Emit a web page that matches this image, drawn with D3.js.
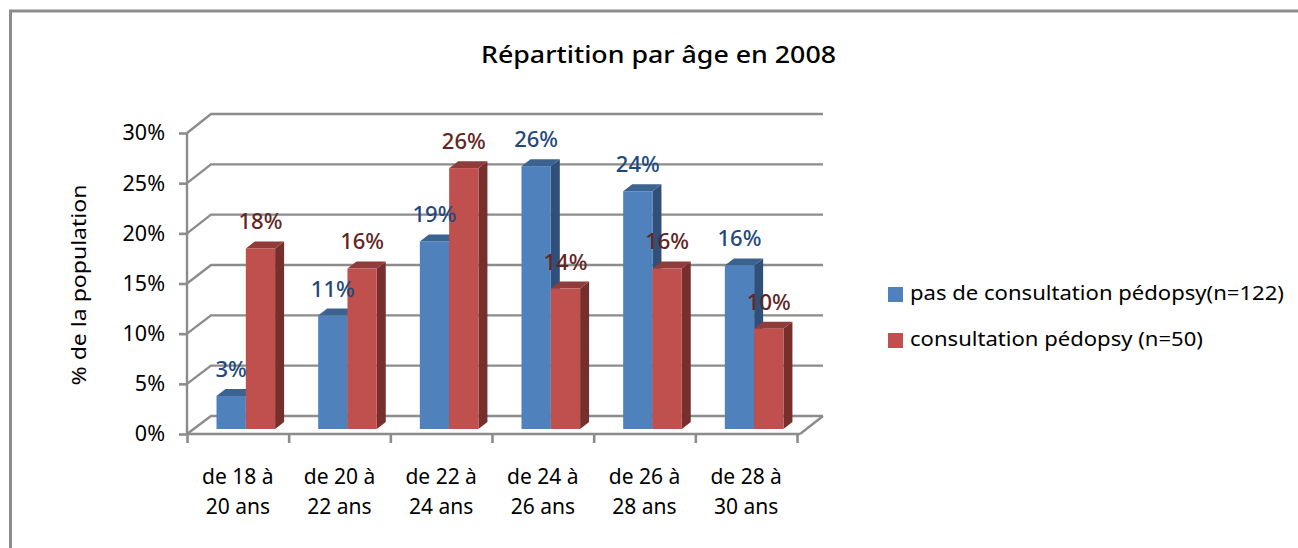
<!DOCTYPE html>
<html><head><meta charset="utf-8">
<script src="https://cdn.jsdelivr.net/npm/d3@7"></script>
<style>html,body{margin:0;padding:0;background:#fff}svg{display:block}text{font-family:"Noto Sans",sans-serif}</style>
</head><body><svg id="c" width="1298" height="548"></svg>
<script>
const title = "Répartition par âge en 2008";
const yTitle = "% de la population";
const categories = ["de 18 à|20 ans","de 20 à|22 ans","de 22 à|24 ans","de 24 à|26 ans","de 26 à|28 ans","de 28 à|30 ans"];
const seriesNames = ["pas de consultation pédopsy(n=122)","consultation pédopsy (n=50)"];
const blueValues = [3.3,11.3,18.7,26.2,23.7,16.3];
const redValues = [18,16,26,14,16,10];
const yTicks = [0,5,10,15,20,25,30];

const svg = d3.select("#c");
const grey = "#8c8c8c";
const dx = 24, dy = 18.5;           // wall depth
const barDx = 9, barDy = 7;         // bar depth
const x = d3.scaleBand().domain(categories).range([187,797]);
const y = d3.scaleLinear().domain([0,30]).range([434,133]);
const yBack = d3.scaleLinear().domain([0,30]).range([416,114]);
const yBar = d3.scaleLinear().domain([0,30]).range([429,128]);
const barW = 29.3, barOff = 29.5;

// frame
svg.append("path").attr("d","M10.5,548V11H1298").attr("fill","none").attr("stroke",grey).attr("stroke-width",3);

// title
svg.append("text").attr("x",658.5).attr("y",63).attr("text-anchor","middle")
  .attr("font-size",24).attr("font-weight",500).attr("fill","#000")
  .attr("textLength",355).attr("lengthAdjust","spacingAndGlyphs").text(title);

// back wall gridlines and side wall links
const gridG = svg.append("g").attr("fill","none").attr("stroke",grey).attr("stroke-width",2.4);
gridG.selectAll("path").data(yTicks).join("path")
  .attr("d",v=>`M187,${y(v)}L${187+dx},${yBack(v)}H823`);
gridG.append("path").attr("d",`M823,${yBack(0)}L800,${y(0)}`);

// axes
const axisY = svg.append("g").attr("transform","translate(187,0)")
  .call(d3.axisLeft(y).tickValues(yTicks).tickFormat(d=>d+"%").tickSize(8).tickPadding(14));
const axisX = svg.append("g").attr("transform",`translate(0,${y(0)})`)
  .call(d3.axisBottom(d3.scaleLinear().domain([0,6]).range([187,797])).ticks(6).tickFormat("").tickSize(9));
[axisY,axisX].forEach(a=>{
  a.selectAll("path.domain").attr("stroke",grey).attr("stroke-width",2.4);
  a.selectAll("line").attr("stroke",grey).attr("stroke-width",2.6);
});
axisY.select("path.domain").attr("d",`M0,${y(30)}V${y(0)}`);
axisX.select("path.domain").attr("d","M187,0H800");
axisY.selectAll("text").attr("font-size",21.5).attr("fill","#000").attr("font-family","Noto Sans");

// y title
svg.append("text").attr("transform","translate(86,285) rotate(-90)").attr("text-anchor","middle")
  .attr("font-size",19.5).attr("fill","#000").attr("textLength",201).attr("lengthAdjust","spacingAndGlyphs").text(yTitle);

// category labels
const catG = svg.append("g").selectAll("text").data(categories).join("text")
  .attr("text-anchor","middle").attr("font-size",21).attr("fill","#000");
catG.each(function(c){
  const cx = x(c)+x.bandwidth()/2;
  c.split("|").forEach((t,i)=>d3.select(this).append("tspan").attr("x",cx).attr("y",484+i*30).text(t));
});

// bars
const styles = [
  {values:blueValues,front:"#4f81bd",top:"#3c6390",side:"#30507a",label:"#1f497d",off:0},
  {values:redValues,front:"#c0504d",top:"#8f3c3a",side:"#772f2d",label:"#632523",off:barW}
];
categories.forEach((c,i)=>{
  styles.forEach(s=>{
    const v = s.values[i], x0 = x(c)+barOff+s.off, x1 = x0+barW, t = yBar(v), b = yBar(0);
    const g = svg.append("g");
    g.append("path").attr("fill",s.side).attr("d",`M${x1},${t}L${x1+barDx},${t-barDy}V${b-barDy}L${x1},${b}Z`);
    g.append("path").attr("fill",s.top).attr("d",`M${x0},${t}L${x0+barDx},${t-barDy}H${x1+barDx}L${x1},${t}Z`);
    g.append("rect").attr("x",x0).attr("y",t).attr("width",barW).attr("height",b-t).attr("fill",s.front);
  });
});
// value labels
categories.forEach((c,i)=>{
  styles.forEach(s=>{
    const v = s.values[i];
    svg.append("text").attr("x",x(c)+barOff+s.off+barW/2).attr("y",yBar(v)-19)
      .attr("text-anchor","middle").attr("font-size",22).attr("font-weight",500).attr("fill",s.label)
      .text(Math.round(v)+"%");
  });
});

// legend
const legendW = [374,293];
const leg = svg.append("g").selectAll("g").data(seriesNames).join("g");
leg.append("rect").attr("x",888).attr("y",(d,i)=>287+i*46).attr("width",15).attr("height",15).attr("fill",(d,i)=>styles[i].front);
leg.append("text").attr("x",910).attr("y",(d,i)=>300+i*46).attr("font-size",20).attr("fill","#000")
  .attr("textLength",(d,i)=>legendW[i]).attr("lengthAdjust","spacingAndGlyphs").text(d=>d);
</script></body></html>
